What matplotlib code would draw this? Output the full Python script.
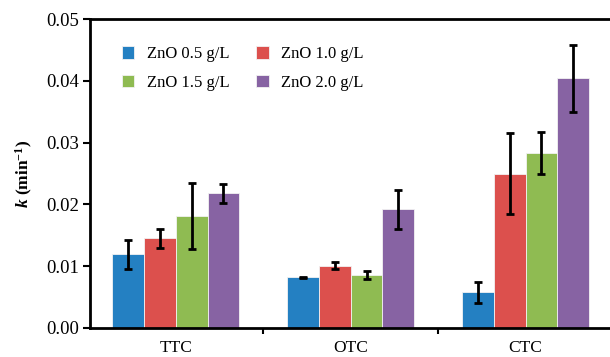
import numpy as np
import matplotlib
matplotlib.use('Agg')
import matplotlib.pyplot as plt
from matplotlib.ticker import FixedLocator, MultipleLocator, FormatStrFormatter

# Rate constants k (min^-1) for each antibiotic at four ZnO loadings
antibiotics = ['TTC', 'OTC', 'CTC']
doses = ['ZnO 0.5 g/L', 'ZnO 1.0 g/L', 'ZnO 1.5 g/L', 'ZnO 2.0 g/L']
k_05 = [0.0119, 0.0082, 0.0058]
k_10 = [0.0145, 0.0101, 0.0250]
k_15 = [0.0181, 0.0086, 0.0283]
k_20 = [0.0218, 0.0192, 0.0404]
err_05 = [0.0023, 0.0001, 0.0017]
err_10 = [0.0016, 0.0006, 0.0065]
err_15 = [0.0053, 0.0007, 0.0034]
err_20 = [0.0015, 0.0031, 0.0054]

colors = ['#2480c2', '#dc504d', '#8fbb52', '#8763a3']

plt.rcParams['font.family'] = ['Liberation Serif', 'DejaVu Serif']
plt.rcParams['font.size'] = 12
plt.rcParams['mathtext.fontset'] = 'custom'
plt.rcParams['mathtext.rm'] = 'Liberation Serif'
plt.rcParams['mathtext.bf'] = 'Liberation Serif:bold'
plt.rcParams['mathtext.it'] = 'Liberation Serif:italic'
plt.rcParams['mathtext.bfit'] = 'Liberation Serif:italic:bold'

fig = plt.figure(figsize=(6.1, 3.57), dpi=100)
ax = fig.add_axes([90 / 610, 1 - 328 / 357, 523 / 610, 309 / 357])

x = np.arange(len(antibiotics))
w = 0.182
series = [(k_05, err_05), (k_10, err_10), (k_15, err_15), (k_20, err_20)]
handles = []
for i, (vals, errs) in enumerate(series):
    pos = x + (i - 1.5) * w
    b = ax.bar(pos, vals, width=w, color=colors[i], edgecolor='#f2f2f2',
               linewidth=0.6, label=doses[i], zorder=2)
    handles.append(b)
    ax.errorbar(pos, vals, yerr=errs, fmt='none', ecolor='black',
                elinewidth=2, capsize=2.8, capthick=2, zorder=3)

ax.set_xlim(-0.49, 2.5)
ax.set_ylim(0, 0.05)
ax.yaxis.set_major_locator(MultipleLocator(0.01))
ax.yaxis.set_major_formatter(FormatStrFormatter('%.2f'))
ax.set_xticks(x)
ax.set_xticklabels(antibiotics, fontsize=12.5)
ax.tick_params(axis='x', which='major', length=0, pad=9)
ax.xaxis.set_minor_locator(FixedLocator([0.5, 1.5]))
ax.tick_params(axis='x', which='minor', length=4, width=1.5, direction='out')
ax.tick_params(axis='y', length=5, width=1.5, direction='out', pad=3, labelsize=13.5)

for side in ['left', 'bottom', 'top']:
    ax.spines[side].set_linewidth(2)
ax.spines['right'].set_visible(False)

ax.set_ylabel(r'$\mathbfit{k}$ (min$^{\mathbf{-1}}$)', fontweight='bold',
              fontsize=12.5, labelpad=8)

# legend filled row by row: 0.5, 1.0 / 1.5, 2.0
order = [0, 2, 1, 3]
ax.legend([handles[i] for i in order], [doses[i] for i in order],
          loc='upper left', ncol=2, frameon=False, handlelength=0.75,
          handleheight=0.75, handletextpad=0.75, columnspacing=1.6,
          labelspacing=0.75, fontsize=12, bbox_to_anchor=(0.032, 0.96))

plt.savefig('out.png', dpi=100)
